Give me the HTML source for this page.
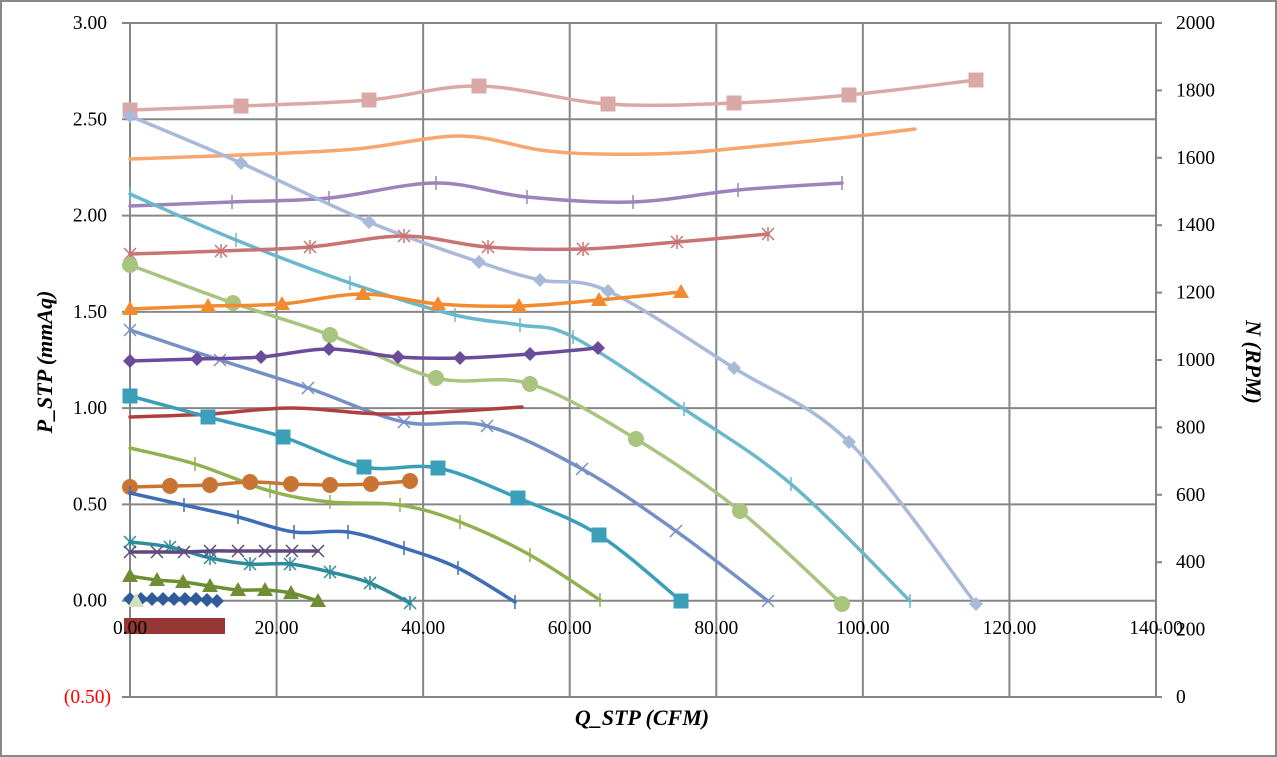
<!DOCTYPE html>
<html><head><meta charset="utf-8"><style>
html,body{margin:0;padding:0;background:#fff}
svg{display:block}
text{font-family:"Liberation Serif",serif;font-size:19.5px;fill:#000}
</style></head><body>
<svg id="s" width="1277" height="757" xmlns="http://www.w3.org/2000/svg">
<rect x="1" y="1" width="1275" height="755" fill="#fff" stroke="#888" stroke-width="2"/>
<g id="grid" stroke="#868686" stroke-width="2"></g>
<g id="ser"></g>
<g id="lbl"></g>
<text x="0" y="0" transform="translate(52,362) rotate(-90)" text-anchor="middle" style="font-weight:bold;font-style:italic;font-size:22px">P_STP (mmAq)</text>
<text x="0" y="0" transform="translate(1246,362) rotate(90)" text-anchor="middle" style="font-weight:bold;font-style:italic;font-size:22px">N (RPM)</text>
<text x="642" y="725" text-anchor="middle" style="font-weight:bold;font-style:italic;font-size:22px">Q_STP (CFM)</text>
</svg>
<script>
const NS="http://www.w3.org/2000/svg";
function el(p,t,a,txt){const e=document.createElementNS(NS,t);for(const k in a)e.setAttribute(k,a[k]);if(txt!==undefined)e.textContent=txt;document.getElementById(p).appendChild(e);return e;}
const X0=130,X1=1156,Y0=23,Y1=697;
for(let i=0;i<=7;i++){const x=X0+i*(X1-X0)/7;el('grid','line',{x1:x,y1:Y0,x2:x,y2:Y1});}
for(let i=0;i<=7;i++){const y=Y0+i*(Y1-Y0)/7;el('grid','line',{x1:X0-8,y1:y,x2:X1,y2:y});}
el('grid','line',{x1:X1,y1:Y0,x2:X1,y2:Y1});
for(let i=0;i<=10;i++){el('grid','line',{x1:X1,y1:Y0+i*(Y1-Y0)/10,x2:X1+6,y2:Y0+i*(Y1-Y0)/10});}
const yl=["3.00","2.50","2.00","1.50","1.00","0.50","0.00"];
yl.forEach((t,i)=>el('lbl','text',{x:107,y:Y0+i*(Y1-Y0)/7+6,'text-anchor':'end'},t));
el('lbl','text',{x:111,y:703,'text-anchor':'end',style:'fill:#f00'},"(0.50)");
for(let i=0;i<=10;i++)el('lbl','text',{x:1176,y:Y0+i*(Y1-Y0)/10+6},String(2000-200*i));
for(let i=0;i<=7;i++)el('lbl','text',{x:X0+i*(X1-X0)/7,y:634,'text-anchor':'middle'},(i*20).toFixed(2));
function path(p){let d="M"+p[0][0]+","+p[0][1];for(let i=0;i<p.length-1;i++){const a=p[Math.max(i-1,0)],b=p[i],c=p[i+1],e=p[Math.min(i+2,p.length-1)];const t=6;d+=" C"+(b[0]+(c[0]-a[0])/t)+","+(b[1]+(c[1]-a[1])/t)+" "+(c[0]-(e[0]-b[0])/t)+","+(c[1]-(e[1]-b[1])/t)+" "+c[0]+","+c[1];}return d;}
function mk(t,x,y,c){const s=7.5;
 if(t=='sq')el('ser','rect',{x:x-s,y:y-s,width:2*s,height:2*s,fill:c});
 else if(t=='ci')el('ser','circle',{cx:x,cy:y,r:8,fill:c});
 else if(t=='tr')el('ser','path',{d:`M${x},${y-8}L${x+8},${y+6}L${x-8},${y+6}Z`,fill:c});
 else if(t=='di')el('ser','path',{d:`M${x},${y-7}L${x+7},${y}L${x},${y+7}L${x-7},${y}Z`,fill:c});
 else if(t=='x')el('ser','path',{d:`M${x-6},${y-6}L${x+6},${y+6}M${x-6},${y+6}L${x+6},${y-6}`,stroke:c,'stroke-width':1.5});
 else if(t=='as')el('ser','path',{d:`M${x-6},${y-6}L${x+6},${y+6}M${x-6},${y+6}L${x+6},${y-6}M${x},${y-7}L${x},${y+7}`,stroke:c,'stroke-width':1.5});
 else if(t=='pl')el('ser','path',{d:`M${x},${y-7}L${x},${y+7}`,stroke:c,'stroke-width':1.5});
}
const S=[
["#DBA8A8","sq",[[130,110],[241,106],[369,100],[479,86],[608,104],[734,103],[849,95],[976,80]]],
["#F9A56E","",[[130,159],[240,155],[356,149],[460,136],[540,150],[600,154],[680,153],[760,146],[840,138],[915,129]]],
["#9B84B9","pl",[[130,206],[232,202],[329,198],[436,183],[527,197],[633,202],[738,190],[842,183]]],
["#A9B9DA","di",[[130,116],[241,163],[369,222],[479,262],[540,280],[608,291],[734,368],[849,442],[976,604]]],
["#6BB8CC","pl",[[130,194],[236,240],[350,283],[455,315],[520,325],[573,337],[684,409],[791,484],[910,601]]],
["#C87474","as",[[130,254],[221,251],[310,247],[404,236],[488,247],[583,249],[677,242],[768,234]]],
["#A9C47F","ci",[[130,265],[233,303],[330,335],[436,378],[530,384],[636,439],[740,511],[842,604]]],
["#F28B30","tr",[[130,309],[208,306],[282,304],[363,294],[438,304],[519,306],[599,300],[681,292]]],
["#7690C6","x",[[130,330],[220,360],[308,388],[404,422],[487,426],[582,469],[676,531],[768,601]]],
["#6B4C9A","di",[[130,361],[197,359],[261,357],[329,349],[398,357],[460,358],[530,354],[598,348]]],
["#B04040","",[[130,417],[210,414],[292,408],[380,414],[460,411],[522,407]]],
["#3B9FB9","sq",[[130,396],[208,417],[283,437],[364,467],[438,468],[518,498],[599,535],[681,601]]],
["#92B050","pl",[[130,448],[195,464],[270,491],[330,502],[400,505],[460,522],[530,555],[600,600]]],
["#C87433","ci",[[130,487],[170,486],[210,485],[250,482],[291,484],[330,485],[371,484],[410,481]]],
["#3E6DB5","pl",[[130,493],[184,505],[238,517],[294,532],[348,532],[404,548],[458,568],[515,602]]],
["#2F8A9A","as",[[130,542],[170,547],[210,558],[250,564],[290,564],[330,572],[370,583],[410,603]]],
["#5E4A7E","x",[[130,552],[157,552],[184,552],[210,551],[238,551],[265,551],[292,551],[318,551]]],
["#6E8E33","tr",[[130,576],[157,580],[183,582],[210,586],[238,590],[265,590],[291,593],[318,601]]],
["#2E5C9A","di",[[130,599],[141,599],[152,599],[163,599],[174,599],[185,599],[196,599],[207,600],[217,601]]]
];
S.forEach(([c,m,p])=>{el('ser','path',{d:path(p),fill:'none',stroke:c,'stroke-width':3.5,'stroke-linecap':'round'});if(m)p.forEach(q=>mk(m,q[0],q[1],c));});
mk('tr',136,601,'#D3E0BD');
el('ser','rect',{x:124,y:618,width:101,height:16,fill:'#953735'});
</script>
</body></html>
